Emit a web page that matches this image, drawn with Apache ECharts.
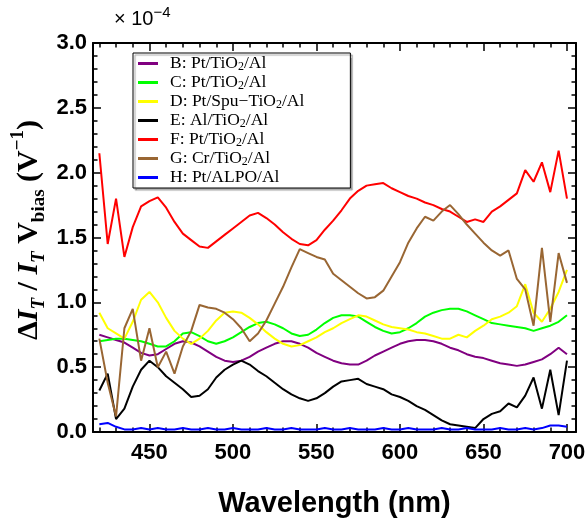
<!DOCTYPE html>
<html>
<head>
<meta charset="utf-8">
<script src="https://cdn.jsdelivr.net/npm/echarts@6/dist/echarts.min.js"></script>
<style>
  html, body { margin: 0; padding: 0; background: #fff; }
  #chart { width: 588px; height: 523px; }
</style>
</head>
<body>
<div id="chart"></div>
<script>
// wavelength (nm), 5 nm steps
var wavelength = [
  420, 425, 430, 435, 440, 445, 450, 455, 460, 465,
  470, 475, 480, 485, 490, 495, 500, 505, 510, 515,
  520, 525, 530, 535, 540, 545, 550, 555, 560, 565,
  570, 575, 580, 585, 590, 595, 600, 605, 610, 615,
  620, 625, 630, 635, 640, 645, 650, 655, 660, 665,
  670, 675, 680, 685, 690, 695, 700
];

// values in units of 1e-4 V^-1
var sampleB = [
  0.75, 0.73, 0.71, 0.69, 0.65, 0.61, 0.59, 0.60, 0.64, 0.68,
  0.70, 0.69, 0.66, 0.62, 0.58, 0.55, 0.54, 0.55, 0.58, 0.62,
  0.65, 0.68, 0.70, 0.70, 0.68, 0.65, 0.61, 0.58, 0.55, 0.53,
  0.52, 0.52, 0.55, 0.59, 0.62, 0.65, 0.68, 0.70, 0.71, 0.71,
  0.70, 0.68, 0.65, 0.63, 0.60, 0.58, 0.57, 0.55, 0.53, 0.52,
  0.51, 0.52, 0.54, 0.56, 0.60, 0.65, 0.60
];
var sampleC = [
  0.70, 0.71, 0.72, 0.72, 0.71, 0.70, 0.68, 0.66, 0.66, 0.70,
  0.76, 0.77, 0.74, 0.70, 0.68, 0.70, 0.73, 0.77, 0.81, 0.84,
  0.85, 0.83, 0.80, 0.76, 0.74, 0.75, 0.79, 0.84, 0.88, 0.90,
  0.90, 0.89, 0.85, 0.81, 0.78, 0.76, 0.77, 0.80, 0.84, 0.89,
  0.92, 0.94, 0.95, 0.95, 0.93, 0.90, 0.87, 0.84, 0.83, 0.82,
  0.81, 0.80, 0.78, 0.80, 0.82, 0.85, 0.90
];
var sampleD = [
  0.92, 0.80, 0.76, 0.72, 0.85, 1.02, 1.08, 1.00, 0.88, 0.78,
  0.72, 0.68, 0.72, 0.78, 0.86, 0.92, 0.93, 0.92, 0.88, 0.83,
  0.77, 0.72, 0.68, 0.66, 0.67, 0.70, 0.73, 0.77, 0.80, 0.84,
  0.87, 0.90, 0.89, 0.86, 0.83, 0.81, 0.80, 0.79, 0.77, 0.76,
  0.74, 0.72, 0.72, 0.75, 0.73, 0.78, 0.82, 0.87, 0.89, 0.92,
  0.97, 1.14, 0.92, 0.85, 0.95, 1.08, 1.25
];
var sampleE = [
  0.32, 0.45, 0.10, 0.18, 0.35, 0.48, 0.55, 0.50, 0.43, 0.38,
  0.33, 0.27, 0.28, 0.33, 0.42, 0.48, 0.52, 0.55, 0.52, 0.47,
  0.43, 0.38, 0.33, 0.29, 0.26, 0.24, 0.26, 0.30, 0.35, 0.39,
  0.40, 0.41, 0.37, 0.35, 0.33, 0.29, 0.27, 0.24, 0.20, 0.17,
  0.13, 0.09, 0.06, 0.05, 0.04, 0.03, 0.10, 0.14, 0.16, 0.22,
  0.19, 0.28, 0.42, 0.18, 0.48, 0.13, 0.55
];
var sampleF = [
  2.15, 1.45, 1.80, 1.35, 1.58, 1.74, 1.78, 1.81, 1.73, 1.62,
  1.53, 1.48, 1.43, 1.42, 1.47, 1.52, 1.57, 1.62, 1.67, 1.69,
  1.65, 1.60, 1.54, 1.49, 1.45, 1.44, 1.48, 1.56, 1.63, 1.71,
  1.80, 1.86, 1.90, 1.91, 1.92, 1.88, 1.85, 1.82, 1.80, 1.77,
  1.75, 1.72, 1.70, 1.66, 1.62, 1.64, 1.62, 1.70, 1.74, 1.79,
  1.84, 2.02, 1.93, 2.08, 1.85, 2.17, 1.80
];
var sampleG = [
  0.72, 0.38, 0.12, 0.80, 0.95, 0.55, 0.80, 0.50, 0.62, 0.45,
  0.66, 0.78, 0.98, 0.96, 0.95, 0.92, 0.87, 0.80, 0.70, 0.76,
  0.86, 0.99, 1.12, 1.27, 1.41, 1.38, 1.35, 1.33, 1.22, 1.17,
  1.12, 1.07, 1.03, 1.04, 1.09, 1.20, 1.31, 1.46, 1.57, 1.66,
  1.63, 1.70, 1.75, 1.68, 1.60, 1.53, 1.46, 1.40, 1.36, 1.40,
  1.18, 1.10, 0.82, 1.42, 0.85, 1.38, 1.15
];
var sampleH = [
  0.06, 0.07, 0.04, 0.02, 0.02, 0.03, 0.02, 0.03, 0.02, 0.02,
  0.03, 0.02, 0.02, 0.03, 0.02, 0.02, 0.03, 0.02, 0.02, 0.02,
  0.03, 0.02, 0.02, 0.03, 0.02, 0.02, 0.02, 0.03, 0.02, 0.02,
  0.03, 0.02, 0.02, 0.02, 0.03, 0.02, 0.02, 0.03, 0.02, 0.02,
  0.02, 0.03, 0.02, 0.02, 0.03, 0.02, 0.02, 0.02, 0.03, 0.02,
  0.02, 0.03, 0.02, 0.03, 0.05, 0.05, 0.04
];

var seriesNames = [
  'B: Pt/TiO2/Al', 'C: Pt/TiO2/Al', 'D: Pt/Spu\u2212TiO2/Al', 'E: Al/TiO2/Al',
  'F: Pt/TiO2/Al ', 'G: Cr/TiO2/Al', 'H: Pt/ALPO/Al'
];
var seriesValues = [sampleB, sampleC, sampleD, sampleE, sampleF, sampleG, sampleH];
var seriesColors = ['#800080', '#00ff00', '#ffff00', '#000000', '#ff0000', '#996633', '#0000ff'];

var xMajor = [450, 500, 550, 600, 650, 700];
var xMinor = [420, 430, 440, 460, 470, 480, 490, 510, 520, 530, 540, 560, 570, 580,
              590, 610, 620, 630, 640, 660, 670, 680, 690, 700];

var xMin = 416.2, xMax = 705.4;
var sans = '"Liberation Sans", Arial, sans-serif';
var serif = '"Liberation Serif", "Times New Roman", serif';

function frameX(pos, ticks, len, withLabels, showLine) {
  return {
    type: 'value', position: pos, min: xMin, max: xMax,
    axisLine: { show: showLine, onZero: false, lineStyle: { color: '#000', width: 2 } },
    axisTick: { show: true, inside: true, length: len, customValues: ticks,
                lineStyle: { color: '#000', width: 1.5 } },
    axisLabel: withLabels ? {
      show: true, customValues: ticks, margin: 10, color: '#000',
      fontFamily: sans, fontWeight: 'bold', fontSize: 22
    } : { show: false },
    splitLine: { show: false }
  };
}

function frameY(pos, withLabels) {
  return {
    type: 'value', position: pos, min: 0, max: 3, interval: 0.5,
    axisLine: { show: true, onZero: false, lineStyle: { color: '#000', width: 2 } },
    axisTick: { show: true, inside: true, length: 8, lineStyle: { color: '#000', width: 1.5 } },
    minorTick: { show: true, splitNumber: 5, length: 4.5, lineStyle: { color: '#000', width: 1.5 } },
    axisLabel: withLabels ? {
      show: true, margin: 6, color: '#000',
      fontFamily: sans, fontWeight: 'bold', fontSize: 22,
      formatter: function (v) { return v.toFixed(1); }
    } : { show: false },
    splitLine: { show: false }
  };
}

var xAxes = [
  frameX('bottom', xMajor, 8, true, true),
  frameX('bottom', xMinor, 4.5, false, false),
  frameX('top', xMajor, 8, false, true),
  frameX('top', xMinor, 4.5, false, false)
];
xAxes[0].name = 'Wavelength (nm)';
xAxes[0].nameLocation = 'middle';
xAxes[0].nameGap = 57;
xAxes[0].nameTextStyle = { color: '#000', fontFamily: sans, fontWeight: 'bold', fontSize: 29 };

var series = seriesNames.map(function (name, k) {
  return {
    name: name, type: 'line', xAxisIndex: 0, yAxisIndex: 0,
    symbol: 'none', smooth: false, animation: false,
    lineStyle: { color: seriesColors[k], width: 2 },
    itemStyle: { color: seriesColors[k] },
    data: wavelength.map(function (w, i) { return [w, seriesValues[k][i]]; })
  };
});

var chart = echarts.init(document.getElementById('chart'));
var option = {
  backgroundColor: '#fff',
  animation: false,
  grid: { left: 93, right: 12, top: 43, bottom: 91, outerBoundsMode: 'none' },
  xAxis: xAxes,
  yAxis: [frameY('left', true), frameY('right', false)],
  legend: {
    orient: 'vertical', left: 133, top: 53,
    icon: 'rect', itemWidth: 20, itemHeight: 3, itemGap: 0,
    padding: [1, 46, 1, 5],
    backgroundColor: '#fff', borderColor: '#000', borderWidth: 1,
    shadowColor: 'rgba(0,0,0,0.35)', shadowBlur: 1, shadowOffsetX: 2, shadowOffsetY: 2,
    formatter: function (name) {
      return name.trim().replace('TiO2', 'TiO{sub|2}');
    },
    textStyle: {
      color: '#000', fontFamily: serif, fontSize: 17.5, lineHeight: 19,
      padding: [0, 0, 0, 7],
      rich: {
        sub: { fontSize: 12, lineHeight: 19, verticalAlign: 'bottom', fontFamily: serif }
      }
    },
    data: seriesNames
  },
  graphic: [
    {
      type: 'text', left: 114, top: 5,
      style: {
        text: '\u00d7 10{sup|\u22124}',
        fill: '#000', font: '20px ' + sans,
        rich: { sup: { fontSize: 15, verticalAlign: 'top', lineHeight: 28, fontFamily: sans } },
        lineHeight: 28
      }
    },
    {
      type: 'text', x: 29, y: 230, rotation: Math.PI / 2,
      style: {
        text: '{b|\u0394}{i|I}{s|T}{b| / }{i|I}{s|T}{b| V}{sb|bias}{b| (V}{sup|\u22121}{b|)}',
        align: 'center', verticalAlign: 'middle', fill: '#000',
        rich: {
          b: { fontFamily: serif, fontWeight: 'bold', fontSize: 30, lineHeight: 40 },
          i: { fontFamily: serif, fontWeight: 'bold', fontStyle: 'italic', fontSize: 30, lineHeight: 40 },
          s: { fontFamily: serif, fontWeight: 'bold', fontStyle: 'italic', fontSize: 19, lineHeight: 40, verticalAlign: 'bottom' },
          sb: { fontFamily: serif, fontWeight: 'bold', fontSize: 19, lineHeight: 40, verticalAlign: 'bottom' },
          sup: { fontFamily: serif, fontWeight: 'bold', fontSize: 19, lineHeight: 40, verticalAlign: 'top' }
        }
      }
    }
  ],
  series: series
};
chart.setOption(option);
</script>
</body>
</html>
